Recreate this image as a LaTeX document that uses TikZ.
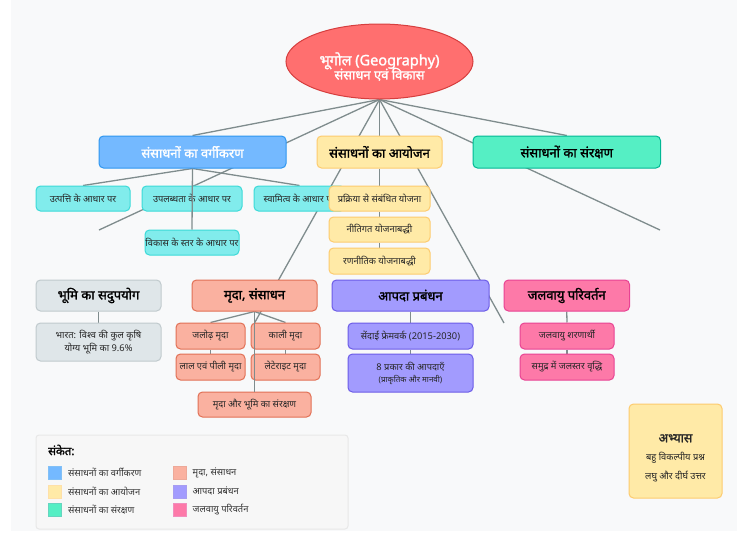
\documentclass[tikz,border=0pt]{standalone}
\usepackage{fontspec}
\setmainfont[Script=Devanagari,BoldFont={Noto Sans},BoldFeatures={FakeBold=1.6}]{Noto Sans}
\usetikzlibrary{shapes.geometric,backgrounds}
\definecolor{bgpage}{HTML}{F8F9FA}
\definecolor{linegray}{HTML}{7F8C8D}
\definecolor{rootfill}{HTML}{FF6F6F}
\definecolor{rootline}{HTML}{D63E3E}
\definecolor{bluefill}{HTML}{74B9FF}
\definecolor{blueline}{HTML}{2E96F0}
\definecolor{yellowfill}{HTML}{FFEAA7}
\definecolor{yellowline}{HTML}{FDCB6E}
\definecolor{greenfill}{HTML}{55EFC4}
\definecolor{greenline}{HTML}{00B894}
\definecolor{cyanfill}{HTML}{81ECEC}
\definecolor{cyanline}{HTML}{3BDAD8}
\definecolor{grayfill}{HTML}{DFE6E9}
\definecolor{grayline}{HTML}{C0CACD}
\definecolor{soilfill}{HTML}{FAB1A0}
\definecolor{soilline}{HTML}{E17055}
\definecolor{violetfill}{HTML}{A29BFE}
\definecolor{violetline}{HTML}{6C5CE7}
\definecolor{pinkfill}{HTML}{FD79A8}
\definecolor{pinkline}{HTML}{E84393}
\tikzset{
	box/.style={draw, line width=1pt, rounded corners=4.5pt, align=center, inner sep=0pt, text=black!85},
	head/.style={box, font=\bfseries\fontsize{13}{15}\selectfont, text=black},
	sub/.style={box, font=\fontsize{9.3}{13}\selectfont},
	edge/.style={draw=linegray, line width=1.3pt},
	keybox/.style={draw, line width=.6pt, minimum width=13pt, minimum height=13pt, inner sep=0pt},
	keytext/.style={anchor=west, inner sep=0pt, font=\fontsize{9.3}{11}\selectfont, text=black!80},
}
% box at pixel corners: (x1,y1) (x2,y2)
\newcommand{\pixbox}[7]{%
	\node[#1, draw=#2line, fill=#2fill, minimum width=#5pt-#3pt, minimum height=#6pt-#4pt] (#7) at ({(#3+#5)/2},{(#4+#6)/2})}
\begin{document}
\begin{tikzpicture}[x=1pt,y=-1pt]
  \useasboundingbox (0,0) rectangle (737,536);
  \begin{scope}[on background layer]
  \fill[bgpage] (11,0) rectangle (737,530.5);
  \end{scope}

  \node[ellipse, draw=rootline, fill=rootfill, line width=1pt, minimum width=187pt, minimum height=75pt, inner sep=0pt, align=center, text=white] (root) at (379.5,61.5)
    {\rule{0pt}{23pt}{\bfseries\fontsize{14.5}{16}\selectfont भूगोल (Geography)}\\[-2.5pt]{\bfseries\fontsize{13}{14}\selectfont संसाधन एवं विकास}};
  \coordinate (leftend) at (99,230);
  \coordinate (rightend) at (660,230);
  \coordinate (soilend) at (254.5,323);
  \coordinate (hazardend) at (504,323);

  \pixbox{head,text=white}{blue}{99}{136}{286}{168}{classify} {संसाधनों का वर्गीकरण};
  \pixbox{head}{yellow}{317}{136}{442}{168}{planning} {संसाधनों का आयोजन};
  \pixbox{head}{green}{473}{136}{660.5}{168}{saving} {संसाधनों का संरक्षण};

  \pixbox{sub}{cyan}{36}{186}{130}{211}{origin} {उत्पत्ति के आधार पर};
  \pixbox{sub}{cyan}{142}{186}{242}{211}{stock} {उपलब्धता के आधार पर};
  \pixbox{sub}{cyan}{254}{186}{345}{211}{owner} {स्वामित्व के आधार पर};
  \pixbox{sub}{cyan}{145}{230}{239}{255}{growth} {विकास के स्तर के आधार पर};

  \pixbox{sub}{yellow}{329}{186}{430}{211}{process} {प्रक्रिया से संबंधित योजना};
  \pixbox{sub}{yellow}{329}{217}{430}{242}{policy} {नीतिगत योजनाबद्धी};
  \pixbox{sub}{yellow}{329}{248}{430}{274}{tactic} {रणनीतिक योजनाबद्धी};

  \pixbox{head}{gray}{36}{280}{161}{311}{landuse} {भूमि का सदुपयोग};
  \pixbox{sub}{gray}{36}{323}{161}{361}{landnote} {भारत: विश्व की कुल कृषि\\योग्य भूमि का 9.6\%};

  \pixbox{head}{soil}{192}{280}{317}{311}{soil} {मृदा, संसाधन};
  \pixbox{sub}{soil}{176}{323}{245}{349}{alluvial} {जलोढ़ मृदा};
  \pixbox{sub}{soil}{251}{323}{320}{349}{black} {काली मृदा};
  \pixbox{sub}{soil}{176}{354}{245}{380}{redsoil} {लाल एवं पीली मृदा};
  \pixbox{sub}{soil}{251}{354}{320}{380}{laterite} {लेटेराइट मृदा};
  \pixbox{sub}{soil}{198}{392}{311}{417}{soilsave} {मृदा और भूमि का संरक्षण};

  \pixbox{head}{violet}{332}{280}{489}{311}{hazard} {आपदा प्रबंधन};
  \pixbox{sub}{violet}{348}{323}{473}{349}{sendai} {सेंदाई फ्रेमवर्क (2015-2030)};
  \pixbox{sub}{violet}{348}{354}{473}{392}{types} {8 प्रकार की आपदाएँ\\[-1pt]{\fontsize{8}{10}\selectfont (प्राकृतिक और मानवी)}};

  \pixbox{head}{pink}{504}{280}{629.5}{311}{climate} {जलवायु परिवर्तन};
  \pixbox{sub}{pink}{520}{323}{614}{349}{refugee} {जलवायु शरणार्थी};
  \pixbox{sub}{pink}{520}{354}{614}{380}{sealevel} {समुद्र में जलस्तर वृद्धि};

  % the lines go under the boxes
  \begin{scope}[on background layer]
  \draw[edge] (root.south) -- (classify.north);
  \draw[edge] (root.south) -- (planning.north);
  \draw[edge] (root.south) -- (saving.north);
  \draw[edge] (root.south) -- (leftend);
  \draw[edge] (root.south) -- (rightend);
  \draw[edge] (root.south) -- (soilend);
  \draw[edge] (root.south) -- (hazardend);
  \draw[edge] (classify.south) -- (origin.north);
  \draw[edge] (classify.south) -- (owner.north);
  \draw[edge] (planning.south) -- (process.north);
  \draw[edge] (process.south) -- (policy.north);
  \draw[edge] (policy.south) -- (tactic.north);
  \draw[edge] (landuse.south) -- (landnote.north);
  \draw[edge] (soil.south) -- (alluvial.north);
  \draw[edge] (soil.south) -- (black.north);
  \draw[edge] (alluvial.south) -- (redsoil.north);
  \draw[edge] (black.south) -- (laterite.north);
  \draw[edge] (hazard.south) -- (sendai.north);
  \draw[edge] (sendai.south) -- (types.north);
  \draw[edge] (climate.south) -- (refugee.north);
  \draw[edge] (refugee.south) -- (sealevel.north);
  \end{scope}

  % these two run over the boxes
  \draw[edge] (classify.south) -- (growth.north);
  \draw[edge] (soil.south) -- (soilsave.north);

  \pixbox{sub}{yellow}{629}{404}{722}{498}{practice}
    {\rule{0pt}{22pt}{\bfseries\fontsize{12.5}{14}\selectfont अभ्यास}\\[5pt]{बहु विकल्पीय प्रश्न}\\[6pt]{लघु और दीर्घ उत्तर}};

  % legend
  \node[draw=black!9, fill=black!3, line width=1pt, rounded corners=3pt, minimum width=312pt, minimum height=94pt, inner sep=0pt] (legend) at (192,482) {};
  \node[anchor=west, inner sep=0pt, font=\bfseries\fontsize{11.5}{13}\selectfont] (legendtitle) at (48,450) {संकेत:};
  \foreach \name/\col/\ypos/\txt in {a/blue/473/संसाधनों का वर्गीकरण, b/yellow/491.5/संसाधनों का आयोजन, c/green/510/संसाधनों का संरक्षण}{
    \node[keybox, draw=\col line!60, fill=\col fill] (key\name) at (54.5,\ypos) {};
    \node[keytext] (keytext\name) at (68,\ypos-.5) {\txt};
  }
  \foreach \name/\col/\ypos/\txt in {d/soil/473/{मृदा, संसाधन}, e/violet/491.5/आपदा प्रबंधन, f/pink/510/जलवायु परिवर्तन}{
    \node[keybox, draw=\col line!60, fill=\col fill] (key\name) at (179.5,\ypos) {};
    \node[keytext] (keytext\name) at (192.5,\ypos-.5) {\txt};
  }
\end{tikzpicture}
\end{document}
